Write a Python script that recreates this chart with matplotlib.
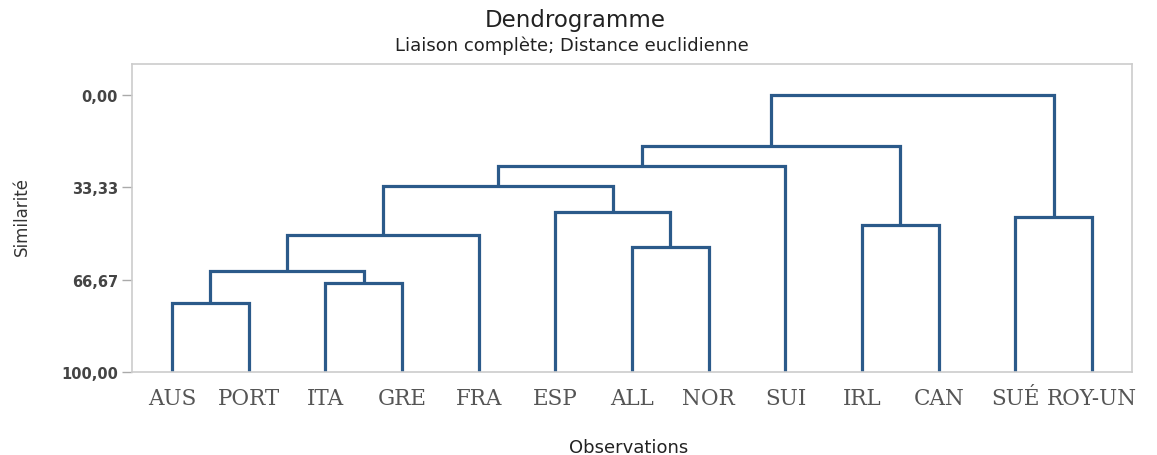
import matplotlib
matplotlib.use("Agg")
import matplotlib.pyplot as plt

# Observations (leaf order as drawn)
leaves = ["AUS", "PORT", "ITA", "GRE", "FRA", "ESP", "ALL", "NOR",
          "SUI", "IRL", "CAN", "SUÉ", "ROY-UN"]

# Agglomeration steps: node ids 0..12 are leaves, each merge creates a new id
merge_left = [0, 2, 13, 15, 6, 5, 16, 19, 9, 20, 11, 22]
merge_right = [1, 3, 14, 4, 7, 17, 18, 8, 10, 21, 12, 23]
merge_sim = [75.1, 67.9, 63.6, 50.7, 54.8, 42.1, 32.7, 25.8, 47.0, 18.5, 44.1, 0.0]

y_ticks = [0.0, 33.33, 66.67, 100.0]
y_ticklabels = ["0,00", "33,33", "66,67", "100,00"]

line_color = "#2b5a8a"

fig = plt.figure(figsize=(11.57, 4.56), dpi=100)
ax = fig.add_axes([0.1141, 0.182, 0.8643, 0.6755])

# leaf positions 1..n, leaves start at 100 % similarity
pos_x = {i: i + 1 for i in range(len(leaves))}
pos_y = {i: 100.0 for i in range(len(leaves))}

node = len(leaves)
for a, b, s in zip(merge_left, merge_right, merge_sim):
    xa, ya = pos_x[a], pos_y[a]
    xb, yb = pos_x[b], pos_y[b]
    ax.plot([xa, xa, xb, xb], [ya, s, s, yb], color=line_color, lw=2.3,
            solid_joinstyle="miter", solid_capstyle="butt")
    pos_x[node] = (xa + xb) / 2
    pos_y[node] = s
    node += 1

ax.set_xlim(0.48, len(leaves) + 0.52)
ax.set_ylim(100, -11.2)

ax.set_yticks(y_ticks)
ax.set_yticklabels(y_ticklabels, fontsize=10.5, color="#444444",
                   fontfamily="DejaVu Sans", fontweight="bold")
ax.tick_params(axis="y", direction="out", length=7, width=1, color="#aaaaaa", pad=3)

ax.set_xticks(range(1, len(leaves) + 1))
ax.set_xticklabels(leaves, fontsize=15.5, color="#555555", fontfamily="DejaVu Serif")
ax.tick_params(axis="x", length=0, pad=11)

for sp in ax.spines.values():
    sp.set_color("#cccccc")
    sp.set_linewidth(1.2)

fig.text(0.497, 0.955, "Dendrogramme", ha="center", va="center",
         fontsize=16.5, fontfamily="DejaVu Sans", color="#222222")
fig.text(0.4946, 0.9, "Liaison complète; Distance euclidienne", ha="center",
         va="center", fontsize=13, fontfamily="DejaVu Sans", color="#222222")
fig.text(0.543, 0.017, "Observations", ha="center", va="center",
         fontsize=13, fontfamily="DejaVu Sans", color="#222222")
fig.text(0.019, 0.525, "Similarité", ha="center", va="center", rotation=90,
         fontsize=12, fontfamily="Liberation Sans Narrow", color="#333333")

fig.savefig("out.png", dpi=100)
